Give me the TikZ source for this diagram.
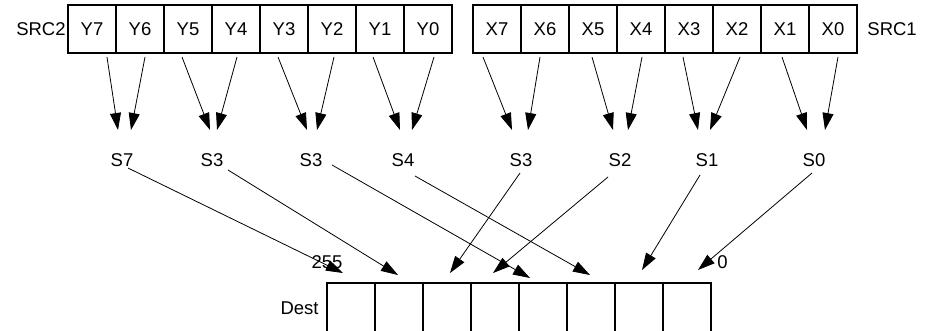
\documentclass[tikz,border=0pt]{standalone}
\usepackage{fontspec}
\setmainfont{Liberation Sans}
\usetikzlibrary{arrows.meta,positioning}

\begin{document}
\begin{tikzpicture}[
                    x=1pt, y=1pt,
                    cell/.style={
                        rectangle,
                        draw=black,
                        line width=1.4pt,
                        minimum width=48pt,
                        minimum height=48pt,
                        inner sep=0pt,
                        outer sep=0pt
                    },
                    destcell/.style={
                        cell,
                        minimum height=50pt
                    },
                    tag/.style={inner sep=0pt},
                    font=\fontsize{18.5}{22}\selectfont,
                    ->,
                    >={Triangle[length=17pt,width=11pt]},
                    line width=0.8pt
                ]
                \clip (0,0) rectangle (925,-330);
                \newcommand{\mkcell}[3]{
                    \node (#1) [#3] {#2};
                }
                \newcommand{\feed}[4]{
                    \draw ([xshift=#2,yshift=-4pt]#1.south) -- ([xshift=#4,yshift=30pt]#3.center);
                }
                \newcommand{\route}[6]{
                    \draw ([xshift=#2,yshift=#3]#1.center) -- ([xshift=#5,yshift=#6]#4.north);
                }
                % source registers
                \mkcell{y7}{Y7}{cell,at={(92,-29)}}
                \mkcell{y6}{Y6}{cell,right=0pt of y7}
                \mkcell{y5}{Y5}{cell,right=0pt of y6}
                \mkcell{y4}{Y4}{cell,right=0pt of y5}
                \mkcell{y3}{Y3}{cell,right=0pt of y4}
                \mkcell{y2}{Y2}{cell,right=0pt of y3}
                \mkcell{y1}{Y1}{cell,right=0pt of y2}
                \mkcell{y0}{Y0}{cell,right=0pt of y1}
                \node (src2) [tag,left=2pt of y7] {SRC2};

                \mkcell{x7}{X7}{cell,at={(497,-29)}}
                \mkcell{x6}{X6}{cell,right=0pt of x7}
                \mkcell{x5}{X5}{cell,right=0pt of x6}
                \mkcell{x4}{X4}{cell,right=0pt of x5}
                \mkcell{x3}{X3}{cell,right=0pt of x4}
                \mkcell{x2}{X2}{cell,right=0pt of x3}
                \mkcell{x1}{X1}{cell,right=0pt of x2}
                \mkcell{x0}{X0}{cell,right=0pt of x1}
                \node (src1) [tag,right=10pt of x0] {SRC1};

                % selectors
                \node (sel7) [tag] at (122,-160) {S7};
                \node (sel6) [tag] at (212,-160) {S3};
                \node (sel5) [tag] at (311,-160) {S3};
                \node (sel4) [tag] at (403,-160) {S4};
                \node (sel3) [tag] at (521,-160) {S3};
                \node (sel2) [tag] at (620,-160) {S2};
                \node (sel1) [tag] at (707,-160) {S1};
                \node (sel0) [tag] at (814,-160) {S0};

                % destination
                \mkcell{d7}{}{destcell,at={(351,-308)}}
                \mkcell{d6}{}{destcell,right=0pt of d7}
                \mkcell{d5}{}{destcell,right=0pt of d6}
                \mkcell{d4}{}{destcell,right=0pt of d5}
                \mkcell{d3}{}{destcell,right=0pt of d4}
                \mkcell{d2}{}{destcell,right=0pt of d3}
                \mkcell{d1}{}{destcell,right=0pt of d2}
                \mkcell{d0}{}{destcell,right=0pt of d1}
                \node (dest) [tag,left=8pt of d7] {Dest};
                \node (hi) [tag,above=14pt of d7.north west] {255};
                \node (lo) [tag,above right=14pt and 6pt of d0.north east] {0};

                \feed{y7}{15pt}{sel7}{-4pt}
                \feed{y6}{5pt}{sel7}{9pt}
                \feed{y5}{-6pt}{sel6}{-2pt}
                \feed{y4}{1pt}{sel6}{5pt}
                \feed{y3}{-6pt}{sel5}{-4pt}
                \feed{y2}{2pt}{sel5}{6pt}
                \feed{y1}{-7pt}{sel4}{-3pt}
                \feed{y0}{6pt}{sel4}{9pt}

                \feed{x7}{-14pt}{sel3}{-9pt}
                \feed{x6}{-5pt}{sel3}{7pt}
                \feed{x5}{-1pt}{sel2}{-7pt}
                \feed{x4}{1pt}{sel2}{8pt}
                \feed{x3}{-6pt}{sel1}{-9pt}
                \feed{x2}{3pt}{sel1}{3pt}
                \feed{x1}{-3pt}{sel0}{-7pt}
                \feed{x0}{5pt}{sel0}{11pt}

                \route{sel7}{6pt}{-8pt}{d7}{-8pt}{10pt}
                \route{sel6}{16pt}{-10pt}{d6}{-1pt}{8pt}
                \route{sel5}{21pt}{-5pt}{d3}{-13pt}{5pt}
                \route{sel4}{12pt}{-16pt}{d2}{-1pt}{8pt}
                \route{sel3}{-1pt}{-13pt}{d5}{3pt}{10pt}
                \route{sel2}{-12pt}{-17pt}{d4}{-2pt}{10pt}
                \route{sel1}{-7pt}{-15pt}{d1}{3pt}{13pt}
                \route{sel0}{-2pt}{-13pt}{d0}{11pt}{13pt}
            \end{tikzpicture}
\end{document}
